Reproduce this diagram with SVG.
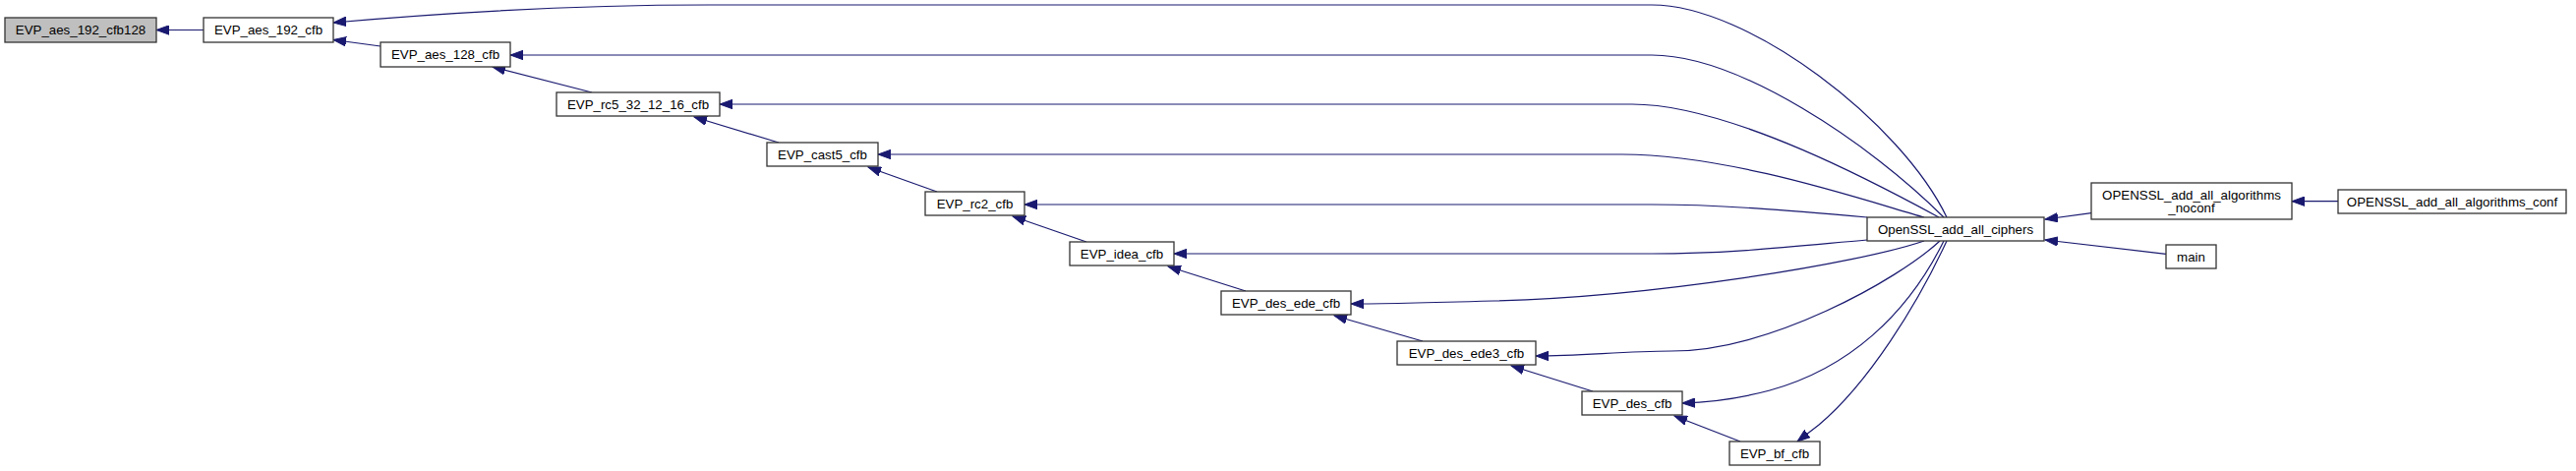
<svg xmlns="http://www.w3.org/2000/svg" width="2620" height="479" viewBox="0 0 2620 479">
<style>
.node rect{fill:#ffffff;stroke:#333333;stroke-width:1.3}
.node.root rect{fill:#bfbfbf}
.node text{font-family:"Liberation Sans",Arial,Helvetica,sans-serif;font-size:13.3px;fill:#000000;text-anchor:middle}
.edges path{fill:none;stroke:#191970;stroke-width:1.2;marker-end:url(#arr)}
</style>
<defs>
<marker id="arr" markerWidth="14" markerHeight="10" refX="13" refY="5" orient="auto" markerUnits="userSpaceOnUse">
<path d="M0,0.3 L13,5 L0,9.7 z" fill="#191970" stroke="#191970" stroke-width="1"/>
</marker>
</defs>
<rect width="2620" height="479" fill="#ffffff"/>
<g id="edges" class="edges">
<path d="M207,30.5 L159,30.5"/>
<path d="M387,47 L339,40.5"/>
<path d="M602,94 L501,68"/>
<path d="M792,145 L706,119"/>
<path d="M953,195 L883,170"/>
<path d="M1105,246 L1030,220"/>
<path d="M1267,296 L1188,271"/>
<path d="M1447,347 L1357,321"/>
<path d="M1620,398 L1537,372"/>
<path d="M1770,449 L1703,423"/>
<path d="M1980,221 C1934,125 1779,5 1680,5 L720,5 C560,5 430,15 339,23"/>
<path d="M1977,221 C1901,145 1768,56 1680,56 L519,56"/>
<path d="M1972,221 C1915,190 1760,106 1660,106 L732,106"/>
<path d="M1957,221 C1900,205 1760,157 1650,157 L893,157"/>
<path d="M1899,221 C1820,214 1750,208 1680,208 L1042,208"/>
<path d="M1899,244 C1820,251 1760,258 1680,258 L1194,258"/>
<path d="M1957,245 C1890,268 1680,302 1520,306 C1450,308 1410,309 1374,309"/>
<path d="M1973,245 C1930,285 1800,357 1700,357 C1650,357 1610,362 1562,362"/>
<path d="M1977,245 C1940,320 1880,375 1800,397 C1770,405 1745,409 1711,410"/>
<path d="M1980,245 C1950,310 1900,390 1850,432 L1828,449"/>
<path d="M2127,216.7 L2080,223"/>
<path d="M2203,258.3 L2080,244"/>
<path d="M2378,204.7 L2331,204.7"/>
</g>
<g id="n_EVP_aes_192_cfb128" class="node root"><rect x="5" y="18" width="154" height="25"/><text x="82" y="35.2">EVP_aes_192_cfb128</text></g>
<g id="n_EVP_aes_192_cfb" class="node"><rect x="207" y="18" width="132" height="25"/><text x="273" y="35.2">EVP_aes_192_cfb</text></g>
<g id="n_EVP_aes_128_cfb" class="node"><rect x="387" y="43" width="132" height="25"/><text x="453" y="60.2">EVP_aes_128_cfb</text></g>
<g id="n_EVP_rc5_32_12_16_cfb" class="node"><rect x="566" y="94" width="166" height="24"/><text x="649" y="110.7">EVP_rc5_32_12_16_cfb</text></g>
<g id="n_EVP_cast5_cfb" class="node"><rect x="780" y="145" width="113" height="24"/><text x="836.5" y="161.7">EVP_cast5_cfb</text></g>
<g id="n_EVP_rc2_cfb" class="node"><rect x="941" y="195" width="101" height="24"/><text x="991.5" y="211.7">EVP_rc2_cfb</text></g>
<g id="n_EVP_idea_cfb" class="node"><rect x="1088" y="246" width="106" height="24"/><text x="1141" y="262.7">EVP_idea_cfb</text></g>
<g id="n_EVP_des_ede_cfb" class="node"><rect x="1242" y="296" width="132" height="24"/><text x="1308" y="312.7">EVP_des_ede_cfb</text></g>
<g id="n_EVP_des_ede3_cfb" class="node"><rect x="1421" y="347" width="141" height="24"/><text x="1491.5" y="363.7">EVP_des_ede3_cfb</text></g>
<g id="n_EVP_des_cfb" class="node"><rect x="1609" y="398" width="102" height="24"/><text x="1660" y="414.7">EVP_des_cfb</text></g>
<g id="n_EVP_bf_cfb" class="node"><rect x="1759" y="449" width="92" height="24"/><text x="1805" y="465.7">EVP_bf_cfb</text></g>
<g id="n_OpenSSL_add_all_ciphers" class="node"><rect x="1899" y="221" width="180" height="24"/><text x="1989" y="237.7">OpenSSL_add_all_ciphers</text></g>
<g id="n_OPENSSL_add_all_algorithms_noconf" class="node"><rect x="2127" y="186" width="204" height="37"/><text x="2229" y="202.5">OPENSSL_add_all_algorithms</text><text x="2229" y="216">_noconf</text></g>
<g id="n_main" class="node"><rect x="2203" y="249" width="51" height="24"/><text x="2228.5" y="265.7">main</text></g>
<g id="n_OPENSSL_add_all_algorithms_conf" class="node"><rect x="2378" y="193" width="232" height="24"/><text x="2494" y="209.7">OPENSSL_add_all_algorithms_conf</text></g>
</svg>
